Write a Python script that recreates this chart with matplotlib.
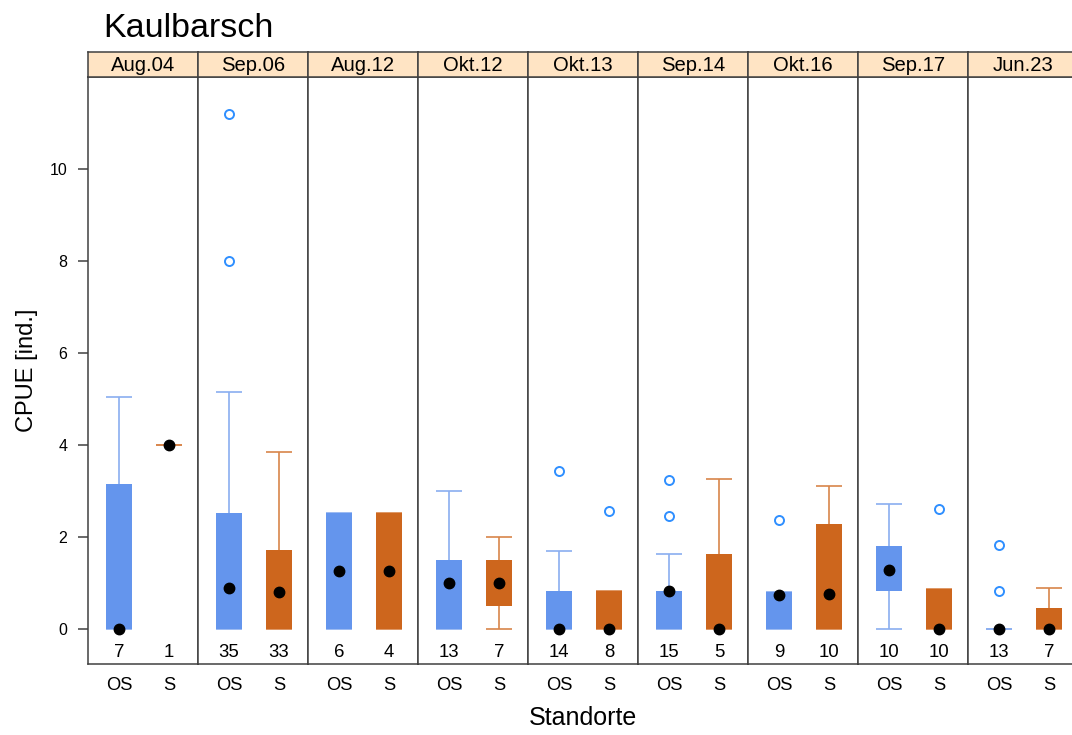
import numpy as np
import matplotlib.pyplot as plt

plt.rcParams['font.family'] = ['Liberation Sans', 'DejaVu Sans']

# Probenahmen (Panels)
termine = ["Aug.04", "Sep.06", "Aug.12", "Okt.12", "Okt.13", "Sep.14", "Okt.16", "Sep.17", "Jun.23"]
standorte = ["OS", "S"]

# OS-Boxplots
os_q1 = [0, 0, 0, 0, 0, 0, 0, 0.83, 0]
os_q3 = [3.15, 2.53, 2.53, 1.5, 0.83, 0.83, 0.8, 1.8, 0]
os_lo = [0, 0, 0, 0, 0, 0, 0, 0, 0]
os_hi = [5.05, 5.15, 2.53, 3.0, 1.7, 1.63, 0.8, 2.72, 0]
os_med = [0, 0.9, 1.26, 1.0, 0, 0.82, 0.75, 1.28, 0]
os_n = [7, 35, 6, 13, 14, 15, 9, 10, 13]
os_out = [[], [8.0, 11.2], [], [], [3.43], [2.45, 3.23], [2.38], [], [0.82, 1.82]]

# S-Boxplots
s_q1 = [4, 0, 0, 0.5, 0, 0, 0, 0, 0]
s_q3 = [4, 1.72, 2.53, 1.5, 0.83, 1.63, 2.28, 0.87, 0.45]
s_lo = [4, 0, 0, 0, 0, 0, 0, 0, 0]
s_hi = [4, 3.85, 2.53, 2.0, 0.83, 3.26, 3.12, 0.87, 0.9]
s_med = [4, 0.8, 1.26, 1.0, 0, 0, 0.76, 0, 0]
s_n = [1, 33, 4, 7, 8, 5, 10, 10, 7]
s_out = [[], [], [], [], [2.56], [], [], [2.6], []]

box_col = ["#6495ED", "#CD661D"]
whisk_col = ["#8AAEF0", "#D8854A"]
out_col = "#2F8FFF"
rahmen = "#404040"

W, H = 1072, 735
fig = plt.figure(figsize=(W / 100, H / 100), dpi=100)

links, breite = 88, 110
unten, oben, strip_h = 664, 77, 25

gruppen = [
    (os_q1, os_q3, os_lo, os_hi, os_med, os_n, os_out),
    (s_q1, s_q3, s_lo, s_hi, s_med, s_n, s_out),
]

bw = 0.52
for i, termin in enumerate(termine):
    x0 = links + i * breite
    ax = fig.add_axes([x0 / W, (H - unten) / H, breite / W, (unten - oben) / H])
    ax.set_xlim(0.38, 2.58)
    ax.set_ylim(-0.76, 12.0)
    for g, (q1, q3, lo, hi, med, n, out) in enumerate(gruppen):
        x = g + 1
        ax.bar(x, q3[i] - q1[i], bottom=q1[i], width=bw, color=box_col[g], zorder=2)
        ax.vlines(x, q3[i], hi[i], color=whisk_col[g], lw=1.2, zorder=1)
        ax.vlines(x, lo[i], q1[i], color=whisk_col[g], lw=1.2, zorder=1)
        ax.hlines([lo[i], hi[i]], x - bw / 2, x + bw / 2, color=whisk_col[g], lw=1.2, zorder=1)
        if out[i]:
            ax.plot([x] * len(out[i]), out[i], 'o', mfc='none', mec=out_col, ms=6.5, mew=1.4, zorder=3)
        ax.plot(x, med[i], 'o', color='black', ms=7.5, zorder=4)
        ax.text(x, -0.52, str(n[i]), ha='center', va='center', fontsize=13.4)
    ax.set_xticks([1, 2])
    ax.set_xticklabels(standorte, fontsize=13.2)
    ax.tick_params(axis='x', length=0, pad=9)
    if i == 0:
        ax.set_yticks([0, 2, 4, 6, 8, 10])
        ax.tick_params(axis='y', length=7, width=1.1, color=rahmen, labelsize=11.5, pad=8)
        ax.set_ylabel("CPUE [ind.]", fontsize=17, labelpad=8)
    else:
        ax.set_yticks([])
    for sp in ax.spines.values():
        sp.set_color(rahmen)
        sp.set_linewidth(1.1)

    sax = fig.add_axes([x0 / W, (H - oben) / H, breite / W, strip_h / H])
    sax.set_facecolor("#FFE4C4")
    sax.set_xticks([])
    sax.set_yticks([])
    for sp in sax.spines.values():
        sp.set_color(rahmen)
        sp.set_linewidth(1.1)
    sax.text(0.5, 0.45, termin, ha='center', va='center', fontsize=14.6, transform=sax.transAxes)

fig.text(103 / W, 1 - 37 / H, "Kaulbarsch", fontsize=24.5, ha='left', va='baseline')
fig.text(583 / W, 1 - 718 / H, "Standorte", fontsize=18, ha='center', va='center')

fig.savefig("out.png", dpi=100)
